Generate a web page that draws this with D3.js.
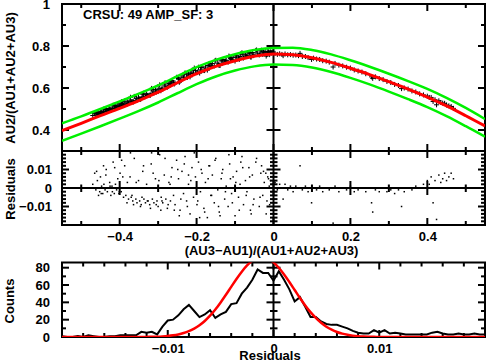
<!DOCTYPE html>
<html>
<head>
<meta charset="utf-8">
<title>CRSU 49</title>
<script src="https://cdn.jsdelivr.net/npm/d3@7"></script>
<style>
  body { margin: 0; background: #fff; }
  text { font-family: "Liberation Sans", Arial, sans-serif; font-weight: bold; font-size: 13px; fill: #000; }
</style>
</head>
<body>
<script>
// fit curve and limits (top panel)
const fitX = [-0.55,-0.5,-0.45,-0.4,-0.35,-0.3,-0.25,-0.2,-0.15,-0.1,-0.05,0,0.05,0.1,0.15,0.2,0.25,0.3,0.35,0.4,0.45,0.5,0.55];
const fitY = [0.397,0.432,0.468,0.503,0.540,0.580,0.625,0.668,0.703,0.730,0.751,0.762,0.758,0.744,0.722,0.694,0.664,0.630,0.595,0.557,0.515,0.468,0.419];
const upperY = [0.432,0.465,0.500,0.536,0.573,0.613,0.656,0.699,0.734,0.761,0.781,0.791,0.792,0.781,0.760,0.732,0.701,0.668,0.633,0.596,0.553,0.505,0.452];
const lowerY = [0.349,0.383,0.418,0.454,0.491,0.531,0.575,0.618,0.655,0.683,0.703,0.712,0.710,0.698,0.676,0.648,0.617,0.583,0.547,0.509,0.466,0.418,0.368];

// measured points: position, ratio, residual
const ptX = [-0.470,-0.465,-0.462,-0.458,-0.455,-0.452,-0.450,-0.447,-0.444,-0.441,
  -0.438,-0.435,-0.432,-0.429,-0.426,-0.423,-0.420,-0.417,-0.414,-0.411,
  -0.408,-0.405,-0.402,-0.399,-0.396,-0.393,-0.390,-0.387,-0.384,-0.380,
  -0.377,-0.373,-0.370,-0.366,-0.362,-0.358,-0.355,-0.351,-0.348,-0.344,
  -0.340,-0.337,-0.333,-0.330,-0.326,-0.322,-0.318,-0.315,-0.311,-0.307,
  -0.303,-0.300,-0.296,-0.292,-0.288,-0.284,-0.280,-0.276,-0.272,-0.268,
  -0.264,-0.260,-0.256,-0.252,
  -0.247,-0.243,-0.238,-0.234,-0.230,-0.226,-0.221,-0.217,-0.212,-0.208,
  -0.203,-0.199,-0.195,-0.190,-0.186,-0.181,-0.177,-0.172,-0.168,-0.163,
  -0.159,-0.154,-0.150,-0.145,-0.141,-0.136,-0.132,-0.127,-0.123,-0.118,
  -0.114,-0.109,-0.105,-0.100,-0.096,-0.091,-0.087,-0.082,-0.078,-0.073,
  -0.069,-0.064,-0.060,-0.055,-0.051,-0.046,-0.042,-0.037,-0.033,-0.028,
  -0.024,-0.019,-0.015,-0.011,-0.008,-0.005,-0.003,-0.013,-0.006,
  0.004,0.010,0.016,0.022,0.025,0.030,0.037,0.044,0.051,0.058,
  0.065,0.069,0.075,0.083,0.090,0.099,0.104,0.112,0.120,0.128,
  0.137,0.145,0.155,0.160,0.170,0.180,0.190,0.200,0.210,0.220,
  0.230,0.240,0.255,0.258,0.265,0.275,0.285,0.295,0.305,0.315,
  0.325,0.333,0.340,0.350,0.360,0.370,0.380,0.390,0.400,0.405,
  0.410,0.415,0.420,0.424,0.430,0.435,0.440,0.445,0.450,0.456,
  0.462,0.468,
  -0.460,-0.448,-0.436,-0.425,-0.413,-0.401,-0.392,-0.381,-0.372,-0.364,
  -0.357,-0.346,-0.338,-0.328,-0.320,-0.313,-0.305,-0.298,-0.290,-0.282,
  -0.274,-0.266,-0.258,-0.249,-0.241,-0.232,-0.224,-0.215,-0.206,-0.197,
  -0.188,-0.179,-0.170,-0.161,-0.152,-0.143,-0.134,-0.125,-0.116,-0.107,
  -0.098,-0.089,-0.080,-0.071,-0.062,-0.053,-0.044,-0.035,-0.026,-0.017,
  -0.455,-0.442,-0.419,-0.395,-0.368,-0.342,-0.317,-0.293,-0.269,-0.245,
  -0.221,-0.192,-0.166,-0.139,-0.112,-0.085,-0.058,-0.031,-0.020,-0.010];
const ptY = [0.469,0.478,0.471,0.479,0.477,0.478,0.487,0.484,0.482,0.489,
  0.488,0.502,0.492,0.496,0.501,0.496,0.503,0.518,0.503,0.510,
  0.509,0.518,0.512,0.525,0.517,0.521,0.518,0.538,0.524,0.534,
  0.527,0.542,0.533,0.534,0.560,0.541,0.541,0.556,0.548,0.549,
  0.570,0.557,0.559,0.571,0.565,0.566,0.592,0.575,0.576,0.592,
  0.584,0.583,0.615,0.595,0.596,0.614,0.605,0.604,0.621,0.615,
  0.636,0.625,0.624,0.651,
  0.646,0.632,0.657,0.649,0.672,0.652,0.665,0.653,0.682,0.669,
  0.684,0.673,0.699,0.686,0.699,0.683,0.700,0.685,0.715,0.703,
  0.717,0.705,0.732,0.718,0.708,0.729,0.736,0.722,0.732,0.723,
  0.748,0.735,0.746,0.728,0.754,0.742,0.750,0.768,0.743,0.758,
  0.754,0.769,0.748,0.769,0.758,0.779,0.766,0.757,0.776,0.760,
  0.768,0.752,0.773,0.769,0.772,0.767,0.771,0.772,0.769,
  0.765,0.760,0.763,0.760,0.754,0.762,0.758,0.759,0.756,0.757,
  0.754,0.765,0.750,0.750,0.745,0.736,0.742,0.738,0.736,0.730,
  0.728,0.723,0.700,0.717,0.709,0.705,0.699,0.695,0.686,0.681,
  0.676,0.668,0.653,0.646,0.653,0.645,0.640,0.631,0.626,0.617,
  0.612,0.597,0.600,0.595,0.586,0.581,0.572,0.567,0.561,0.555,
  0.555,0.536,0.544,0.520,0.539,0.531,0.528,0.527,0.519,0.515,
  0.512,0.503,
  0.483,0.479,0.498,0.500,0.518,0.513,0.528,0.522,0.556,0.534,
  0.551,0.546,0.575,0.564,0.566,0.591,0.580,0.599,0.595,0.625,
  0.607,0.630,0.619,0.649,0.640,0.666,0.650,0.672,0.695,0.676,
  0.699,0.683,0.707,0.704,0.730,0.710,0.733,0.728,0.752,0.731,
  0.747,0.736,0.762,0.751,0.765,0.754,0.781,0.762,0.773,0.759,
  0.473,0.499,0.501,0.535,0.536,0.554,0.598,0.587,0.623,0.627,
  0.670,0.671,0.717,0.707,0.741,0.763,0.747,0.780,0.774,0.759];
const ptRes = [0.002,0.008,-0.001,0.004,0,-0.002,0.006,0.001,-0.003,0.002,
  -0.001,0.010,-0.002,0,0.003,-0.004,0.001,0.014,-0.003,0.002,
  -0.001,0.005,-0.003,0.008,-0.002,0,-0.005,0.012,-0.004,0.003,
  -0.006,0.006,-0.005,-0.007,0.016,-0.006,-0.008,0.004,-0.007,-0.009,
  0.009,-0.006,-0.008,0.002,-0.007,-0.009,0.013,-0.006,-0.008,0.005,
  -0.007,-0.010,0.018,-0.005,-0.008,0.007,-0.006,-0.011,0.003,-0.007,
  0.011,-0.004,-0.009,0.015,
  0.005,-0.012,0.009,-0.003,0.017,-0.007,0.002,-0.014,0.011,-0.005,
  0.006,-0.009,0.014,-0.002,0.008,-0.011,0.003,-0.016,0.012,-0.004,
  0.007,-0.008,0.016,-0.001,-0.013,0.005,0.010,-0.006,0.001,-0.010,
  0.013,-0.003,0.006,-0.015,0.009,-0.005,0.002,0.017,-0.009,0.004,
  -0.002,0.011,-0.012,0.007,-0.006,0.014,0,-0.010,0.008,-0.004,
  0.003,-0.014,0.006,0.001,0.004,-0.002,0.002,0.005,0,
  0.003,-0.001,0.002,0,-0.006,0.002,-0.001,0.001,-0.002,0.001,
  0,0.012,-0.001,0.001,-0.002,-0.008,0,-0.001,0.001,-0.002,
  0,-0.001,-0.019,0.001,-0.002,0,-0.001,0.001,-0.002,-0.001,
  0,-0.002,-0.008,-0.013,-0.001,-0.002,0,-0.002,-0.001,-0.003,
  -0.001,-0.010,-0.002,0,-0.001,0.001,0,0.002,0.004,0.002,
  0.006,-0.008,0.004,-0.017,0.007,0.003,0.005,0.008,0.004,0.006,
  0.008,0.005,
  0.009,-0.003,0.007,0.001,0.011,-0.002,0.006,-0.008,0.019,-0.009,
  0.003,-0.010,0.012,-0.007,-0.011,0.008,-0.009,0.004,-0.007,0.016,
  -0.009,0.006,-0.012,0.010,-0.006,0.013,-0.010,0.004,0.019,-0.007,
  0.010,-0.013,0.005,-0.004,0.015,-0.010,0.008,-0.002,0.018,-0.008,
  0.003,-0.012,0.011,-0.004,0.006,-0.009,0.016,-0.005,0.009,-0.007,
  -0.004,0.012,-0.002,0.015,-0.004,-0.005,0.019,-0.012,0.002,-0.015,
  0.007,-0.016,0.012,-0.015,0.005,0.014,-0.014,0.012,0.008,-0.009];

// residual histogram and gaussian fit
const histX = [-0.02,-0.0195,-0.019,-0.0185,-0.018,-0.0175,-0.017,-0.0165,-0.016,-0.0155,
  -0.015,-0.0145,-0.014,-0.0135,-0.013,-0.0125,-0.012,-0.0115,-0.011,-0.0105,
  -0.01,-0.0095,-0.009,-0.0085,-0.008,-0.0075,-0.007,-0.0065,-0.006,-0.0055,
  -0.005,-0.0045,-0.004,-0.0035,-0.003,-0.0025,-0.002,-0.0015,-0.001,-0.0005,
  0,0.0005,0.001,0.0015,0.002,0.0025,0.003,0.0035,0.004,0.0045,
  0.005,0.0055,0.006,0.0065,0.007,0.0075,0.008,0.0085,0.009,0.0095,
  0.01,0.0105,0.011,0.0115,0.012,0.0125,0.013,0.0135,0.014,0.0145,
  0.015,0.0155,0.016,0.0165,0.017,0.0175,0.018,0.0185,0.019,0.0195,0.02];
const histN = [1,0,0,1,0,2,1,0,0,1, 1,2,2,2,2,6,5,6,3,12,
  19,20,25,32,37,30,23,26,31,22, 26,29,38,39,50,57,66,78,74,74,
  65,76,66,55,41,46,35,23,23,18, 15,14,14,12,10,7,5,4,4,8,
  5,8,4,5,4,3,3,3,3,3, 5,6,4,3,3,4,3,3,4,3, 3];
const gaussN = [0,0,0,0,0,0,0,0,0,0, 0,0,0.01,0.02,0.04,0.07,0.13,0.24,0.42,0.72,
  1.19,1.91,2.98,4.54,6.72,9.68,13.6,18.5,24.6,31.7, 39.9,48.7,57.9,67.0,75.4,82.6,88.0,91.2,92.0,90.2,
  86.1,79.9,72.2,63.5,54.3,45.1,36.5,28.7,22.0,16.4, 11.9,8.4,5.77,3.85,2.5,1.58,0.97,0.58,0.34,0.19,
  0.1,0.05,0.02,0.01,0,0,0,0,0,0, 0,0,0,0,0,0,0,0,0,0, 0];

// tick labels
const topYTicks = [0.4, 0.6, 0.8, 1], topYLabels = ["0.4", "0.6", "0.8", "1"];
const resYTicks = [-0.01, 0, 0.01], resYLabels = ["\u22120.01", "0", "0.01"];
const resXTicks = [-0.4, -0.2, 0, 0.2, 0.4], resXLabels = ["\u22120.4", "\u22120.2", "0", "0.2", "0.4"];
const histXTicks = [-0.01, 0, 0.01], histXLabels = ["\u22120.01", "0", "0.01"];
const histYTicks = [0, 20, 40, 60, 80], histYLabels = ["0", "20", "40", "60", "80"];

const w = 486, h = 361;
const L = 62, R = 485;

const svg = d3.select("body").append("svg")
  .attr("width", w).attr("height", h);

const x = d3.scaleLinear().domain([-0.55, 0.55]).range([L, R]);
const yTop = d3.scaleLinear().domain([0.3, 1]).range([151, 4]);
const yRes = d3.scaleLinear().domain([-0.02, 0.02]).range([225, 151]);
const xH = d3.scaleLinear().domain([-0.02, 0.02]).range([L, R]);
const yH = d3.scaleLinear().domain([0, 86]).range([337, 262.5]);

const defs = svg.append("defs");
defs.append("clipPath").attr("id", "cTop").append("rect")
  .attr("x", L).attr("y", 4).attr("width", R - L).attr("height", 147);
defs.append("clipPath").attr("id", "cRes").append("rect")
  .attr("x", L).attr("y", 151).attr("width", R - L).attr("height", 74);
defs.append("clipPath").attr("id", "cH").append("rect")
  .attr("x", L).attr("y", 262.5).attr("width", R - L).attr("height", 74.5);

const axes = svg.append("g").attr("stroke", "#000").attr("stroke-width", 2);

// vertical tick marks at scale(v) from y0 inward (dir 0 = crossing)
function xTicks(sc, vals, y0, isMajor, dir) {
  axes.append("g").selectAll("line").data(vals).join("line")
    .attr("x1", d => sc(d)).attr("x2", d => sc(d))
    .attr("y1", d => dir === 0 ? y0 - (isMajor(d) ? 7 : 3.5) : y0)
    .attr("y2", d => y0 + (dir === 0 ? 1 : dir) * (isMajor(d) ? 7 : 4));
}
function yTicks(sc, vals, x0, isMajor, dir) {
  axes.append("g").selectAll("line").data(vals).join("line")
    .attr("y1", d => sc(d)).attr("y2", d => sc(d))
    .attr("x1", d => dir === 0 ? x0 - (isMajor(d) ? 7 : 3.5) : x0)
    .attr("x2", d => x0 + (dir === 0 ? 1 : dir) * (isMajor(d) ? 7 : 4));
}
const near = (v, s) => Math.abs(v / s - Math.round(v / s)) < 1e-6;

function frame(y0, y1) {
  axes.append("rect").attr("x", L).attr("y", y0).attr("width", R - L).attr("height", y1 - y0)
    .attr("fill", "none");
}

function labels(axis, tx, ty) {
  const g = svg.append("g").attr("transform", `translate(${tx},${ty})`).call(axis);
  g.select(".domain").remove();
  g.selectAll("line").remove();
  g.attr("font-size", null).attr("font-family", null);
  return g;
}

// ---- top panel ----
const topG = svg.append("g").attr("clip-path", "url(#cTop)");
topG.append("g").selectAll("path").data(ptX).join("path")
  .attr("d", (d, i) => `M${x(d) - 2.5},${yTop(ptY[i])}h5M${x(d)},${yTop(ptY[i]) - 2.5}v5`)
  .attr("stroke", "#000").attr("stroke-width", 1);

const fitLine = arr => d3.line().x((d, i) => x(fitX[i])).y(d => yTop(d)).curve(d3.curveMonotoneX)(arr);
topG.append("path").attr("d", fitLine(upperY)).attr("fill", "none").attr("stroke", "#00f000").attr("stroke-width", 2.5);
topG.append("path").attr("d", fitLine(lowerY)).attr("fill", "none").attr("stroke", "#00f000").attr("stroke-width", 2.5);
topG.append("path").attr("d", fitLine(fitY)).attr("fill", "none").attr("stroke", "#ff0000").attr("stroke-width", 3);

frame(4, 151);
axes.append("line").attr("x1", x(0)).attr("x2", x(0)).attr("y1", 4).attr("y2", 151);
const topXT = x.ticks(10), topYT = yTop.ticks(7);
const mx02 = d => near(d, 0.2);
xTicks(x, topXT, 4, mx02, 1);
xTicks(x, topXT, 151, mx02, -1);
yTicks(yTop, topYT, L, mx02, 1);
yTicks(yTop, topYT, R, mx02, -1);
yTicks(yTop, topYT, x(0), mx02, 0);

labels(d3.axisLeft(yTop).tickValues(topYTicks).tickSize(0).tickPadding(12)
  .tickFormat((d, i) => topYLabels[i]), L, 0.8);

svg.append("text").attr("x", 83).attr("y", 19).text("CRSU: 49 AMP_SF: 3");
svg.append("text").attr("transform", "translate(14.5,78) rotate(-90)")
  .attr("text-anchor", "middle").text("AU2/(AU1+AU2+AU3)");

// ---- residual panel ----
const resG = svg.append("g").attr("clip-path", "url(#cRes)");
resG.append("g").selectAll("rect").data(ptX).join("rect")
  .attr("x", d => x(d) - 0.75).attr("y", (d, i) => yRes(ptRes[i]) - 0.75)
  .attr("width", 1.5).attr("height", 1.5).attr("fill", "#000");

frame(151, 225);
axes.append("line").attr("x1", x(0)).attr("x2", x(0)).attr("y1", 151).attr("y2", 225);
axes.append("line").attr("x1", L).attr("x2", R).attr("y1", yRes(0)).attr("y2", yRes(0));
const resYT = yRes.ticks(20), m001 = d => near(d, 0.01);
xTicks(x, topXT, 151, mx02, 1);
xTicks(x, topXT, 225, mx02, -1);
xTicks(x, topXT, yRes(0), mx02, 0);
yTicks(yRes, resYT, L, m001, 1);
yTicks(yRes, resYT, R, m001, -1);
yTicks(yRes, resYT, x(0), m001, 0);

labels(d3.axisLeft(yRes).tickValues(resYTicks).tickSize(0).tickPadding(10)
  .tickFormat((d, i) => resYLabels[i]), L, 0);
labels(d3.axisBottom(x).tickValues(resXTicks).tickSize(0).tickPadding(7)
  .tickFormat((d, i) => resXLabels[i]), 0, 225);

svg.append("text").attr("transform", "translate(14.5,189) rotate(-90)")
  .attr("text-anchor", "middle").text("Residuals");
svg.append("text").attr("x", 271.5).attr("y", 255).attr("text-anchor", "middle")
  .text("(AU3\u2212AU1)/(AU1+AU2+AU3)");

// ---- histogram panel ----
const histG = svg.append("g").attr("clip-path", "url(#cH)");
histG.append("path")
  .attr("d", d3.line().x((d, i) => xH(histX[i])).y(d => yH(d))(histN))
  .attr("fill", "none").attr("stroke", "#000").attr("stroke-width", 2);
histG.append("path")
  .attr("d", d3.line().x((d, i) => xH(histX[i])).y(d => yH(d)).curve(d3.curveMonotoneX)(gaussN))
  .attr("fill", "none").attr("stroke", "#ff0000").attr("stroke-width", 2.5);

frame(262.5, 337);
axes.append("line").attr("x1", xH(0)).attr("x2", xH(0)).attr("y1", 262.5).attr("y2", 337);
const hXT = xH.ticks(20), hYT = yH.ticks(8), m20 = d => near(d, 20);
xTicks(xH, hXT, 262.5, m001, 1);
xTicks(xH, hXT, 337, m001, -1);
yTicks(yH, hYT, L, m20, 1);
yTicks(yH, hYT, R, m20, -1);
yTicks(yH, hYT, xH(0), m20, 0);

labels(d3.axisLeft(yH).tickValues(histYTicks).tickSize(0).tickPadding(12)
  .tickFormat((d, i) => histYLabels[i]), L, 0);
labels(d3.axisBottom(xH).tickValues(histXTicks).tickSize(0).tickPadding(7)
  .tickFormat((d, i) => histXLabels[i]), 0, 337);

svg.append("text").attr("transform", "translate(14,301) rotate(-90)")
  .attr("text-anchor", "middle").text("Counts");
svg.append("text").attr("x", 270).attr("y", 359.5).attr("text-anchor", "middle").text("Residuals");
</script>
</body>
</html>
